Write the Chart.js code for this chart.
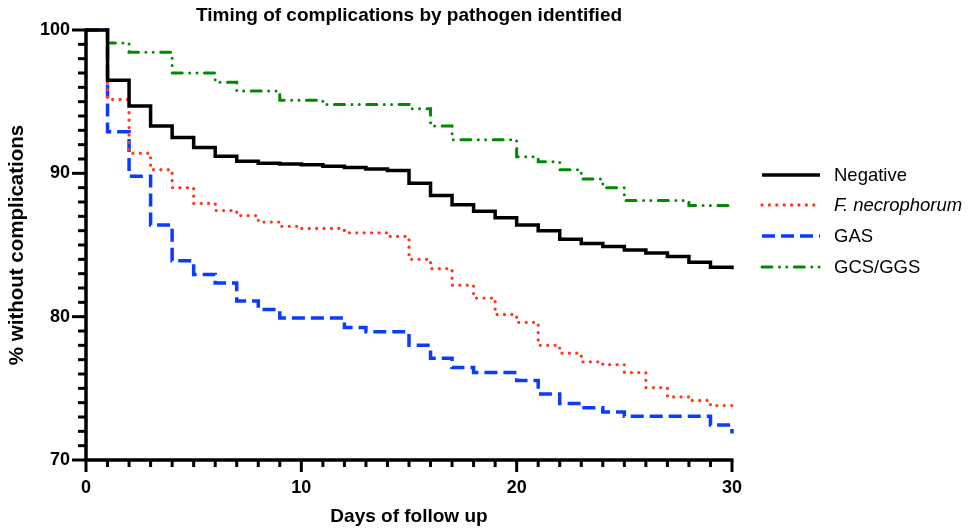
<!DOCTYPE html>
<html lang="en">
<head>
    <meta charset="UTF-8">
    <title>Timing of complications by pathogen identified</title>
    <style>
        body {
            margin: 0;
            background-color: #fff;
        }
        .chart-box {
            width: 977px;
            height: 531px;
        }
    </style>
</head>
<body>
    <div class="chart-box">
        <canvas id="kmChart" width="977" height="531"></canvas>
    </div>

    <script src="https://cdn.jsdelivr.net/npm/chart.js"></script>
    <script>
        // Days of follow up
        const days = [0, 1, 2, 3, 4, 5, 6, 7, 8, 9, 10, 11, 12, 13, 14, 15,
                      16, 17, 18, 19, 20, 21, 22, 23, 24, 25, 26, 27, 28, 29, 30];

        // % without complications at the end of each day (Kaplan-Meier steps)
        const negative = [100, 96.5, 94.7, 93.3, 92.5, 91.8, 91.2, 90.85, 90.7, 90.65, 90.6, 90.5, 90.4, 90.3, 90.2,
                          89.3, 88.45, 87.8, 87.35, 86.9, 86.4, 86.0, 85.4, 85.1, 84.9, 84.65, 84.45, 84.2, 83.8, 83.45, 83.3];
        const fNecrophorum = [100, 95.15, 91.4, 90.25, 89.0, 87.9, 87.4, 87.05, 86.6, 86.3, 86.15, 86.15, 85.85, 85.85, 85.6,
                              84.0, 83.35, 82.2, 81.3, 80.15, 79.6, 78.0, 77.45, 76.85, 76.65, 76.1, 75.05, 74.4, 74.15, 73.8, 73.6];
        const gas = [100, 92.9, 89.8, 86.4, 83.9, 82.95, 82.35, 81.1, 80.5, 79.9, 79.9, 79.9, 79.25, 78.95, 78.95,
                     78.0, 77.1, 76.45, 76.1, 76.1, 75.55, 74.6, 73.95, 73.65, 73.35, 73.05, 73.05, 73.05, 73.05, 72.45, 71.85];
        const gcsGgs = [100, 99.1, 98.45, 98.45, 97.0, 97.0, 96.35, 95.75, 95.75, 95.1, 95.1, 94.8, 94.8, 94.8, 94.8,
                        94.5, 93.3, 92.35, 92.35, 92.35, 91.15, 90.8, 90.25, 89.6, 89.0, 88.1, 88.1, 88.1, 87.75, 87.75, 87.75];

        const seriesLabels = ['Negative', 'F. necrophorum', 'GAS', 'GCS/GGS'];

        // Axis ticks
        const xTicks = [0, 10, 20, 30];
        const yTicks = [70, 80, 90, 100];
        const xMinorStep = 1;
        const yMinorStep = 1;

        function toPoints(values) {
            return days.map(function(d, i) { return { x: d, y: values[i] }; });
        }

        const FONT = '"Liberation Sans", Arial, sans-serif';

        // Draws the thick axes, the minor/major tick marks and the legend
        const axesAndLegend = {
            id: 'axesAndLegend',
            afterDraw: function(chart) {
                const ctx = chart.ctx;
                const xs = chart.scales.x;
                const ys = chart.scales.y;
                const left = chart.chartArea.left;
                const bottom = chart.chartArea.bottom;

                ctx.save();
                ctx.strokeStyle = '#000';
                ctx.lineCap = 'butt';
                ctx.setLineDash([]);

                // y ticks
                ctx.lineWidth = 3;
                for (let v = ys.min; v <= ys.max; v += yMinorStep) {
                    const py = ys.getPixelForValue(v);
                    const len = yTicks.includes(v) ? 14 : 8;
                    ctx.beginPath();
                    ctx.moveTo(left, py);
                    ctx.lineTo(left - len, py);
                    ctx.stroke();
                }
                // x ticks
                for (let v = xs.min; v <= xs.max; v += xMinorStep) {
                    const px = xs.getPixelForValue(v);
                    const len = xTicks.includes(v) ? 12 : 7;
                    ctx.beginPath();
                    ctx.moveTo(px, bottom);
                    ctx.lineTo(px, bottom + len);
                    ctx.stroke();
                }

                // axis lines
                ctx.lineWidth = 3.5;
                ctx.beginPath();
                ctx.moveTo(left, ys.getPixelForValue(ys.max) - 1.5);
                ctx.lineTo(left, bottom);
                ctx.lineTo(xs.getPixelForValue(xs.max) + 1.5, bottom);
                ctx.stroke();

                // legend
                const lx = chart.chartArea.right + 30;
                const legendY = [175, 205, 236, 267];
                chart.data.datasets.forEach(function(ds, i) {
                    const ly = legendY[i];
                    ctx.strokeStyle = ds.borderColor;
                    ctx.lineWidth = ds.borderWidth;
                    ctx.lineCap = ds.borderCapStyle;
                    ctx.setLineDash(ds.borderDash);
                    ctx.beginPath();
                    ctx.moveTo(lx, ly);
                    ctx.lineTo(lx + 58, ly);
                    ctx.stroke();

                    ctx.fillStyle = '#000';
                    ctx.font = (ds.italicLabel ? 'italic ' : '') + '18.5px ' + FONT;
                    ctx.textBaseline = 'middle';
                    ctx.textAlign = 'left';
                    ctx.fillText(ds.label, lx + 72, ly + 1);
                });
                ctx.restore();
            }
        };

        const kmCtx = document.getElementById('kmChart').getContext('2d');
        const kmChart = new Chart(kmCtx, {
            type: 'line',
            data: {
                datasets: [{
                    label: seriesLabels[0],
                    data: toPoints(negative),
                    borderColor: '#000000',
                    borderWidth: 3.5,
                    borderCapStyle: 'butt',
                    borderDash: []
                }, {
                    label: seriesLabels[1],
                    italicLabel: true,
                    data: toPoints(fNecrophorum),
                    borderColor: '#ff3a1e',
                    borderWidth: 3.3,
                    borderCapStyle: 'round',
                    borderDash: [0, 7.4]
                }, {
                    label: seriesLabels[2],
                    data: toPoints(gas),
                    borderColor: '#0a3cff',
                    borderWidth: 3.5,
                    borderCapStyle: 'butt',
                    borderDash: [13, 6]
                }, {
                    label: seriesLabels[3],
                    data: toPoints(gcsGgs),
                    borderColor: '#008a00',
                    borderWidth: 3,
                    borderCapStyle: 'round',
                    borderDash: [10, 7.5, 0, 7.3, 0, 7.5]
                }]
            },
            options: {
                responsive: false,
                animation: false,
                clip: false,
                elements: {
                    point: { radius: 0 },
                    line: { stepped: 'before', fill: false, borderJoinStyle: 'miter', tension: 0 }
                },
                layout: {
                    padding: { top: 0, right: 245, bottom: 0, left: 0 }
                },
                plugins: {
                    legend: { display: false },
                    tooltip: { enabled: false },
                    title: {
                        display: true,
                        fullSize: false,
                        text: 'Timing of complications by pathogen identified',
                        color: '#000',
                        font: { family: FONT, size: 19, weight: 'bold' },
                        padding: { top: 4, bottom: 3.2 }
                    }
                },
                scales: {
                    x: {
                        type: 'linear',
                        min: 0,
                        max: 30,
                        afterBuildTicks: function(s) { s.ticks = xTicks.map(function(v) { return { value: v }; }); },
                        afterFit: function(s) { s.height = 71; },
                        grid: { display: false, drawTicks: false },
                        border: { display: false },
                        ticks: {
                            color: '#000',
                            padding: 17,
                            maxRotation: 0,
                            font: { family: FONT, size: 18, weight: 'bold' }
                        },
                        title: {
                            display: true,
                            text: 'Days of follow up',
                            color: '#000',
                            font: { family: FONT, size: 19, weight: 'bold' },
                            padding: { top: 0, bottom: 3 }
                        }
                    },
                    y: {
                        min: 70,
                        max: 100,
                        afterBuildTicks: function(s) { s.ticks = yTicks.map(function(v) { return { value: v }; }); },
                        afterFit: function(s) { s.width = 86; },
                        grid: { display: false, drawTicks: false },
                        border: { display: false },
                        ticks: {
                            color: '#000',
                            padding: 16,
                            font: { family: FONT, size: 18, weight: 'bold' }
                        },
                        title: {
                            display: true,
                            text: '% without complications',
                            color: '#000',
                            font: { family: FONT, size: 20.5, weight: 'bold' },
                            padding: { top: 5, bottom: 0 }
                        }
                    }
                }
            },
            plugins: [axesAndLegend]
        });
    </script>
</body>
</html>
